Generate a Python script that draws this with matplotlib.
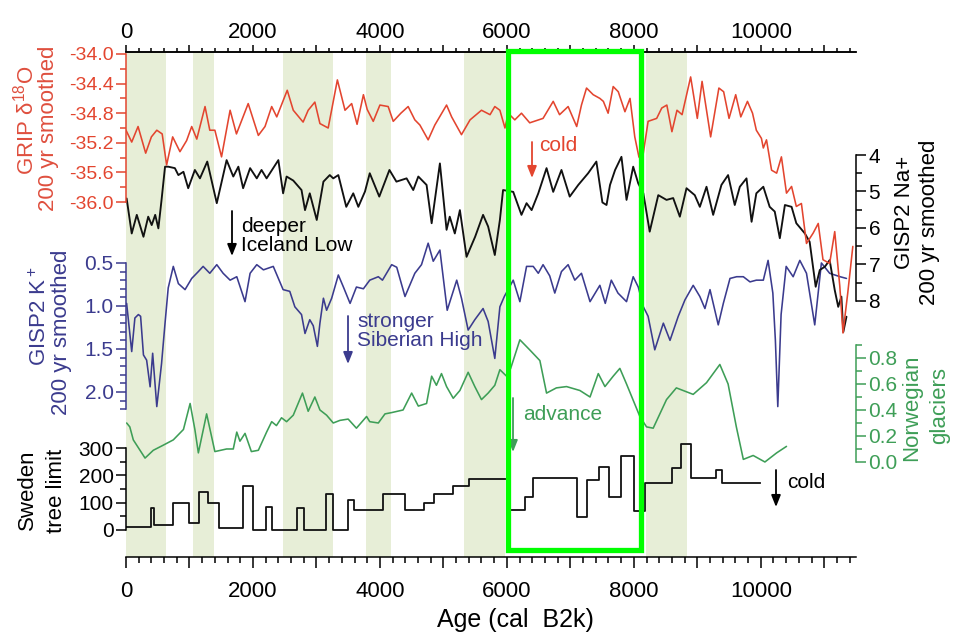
import matplotlib
matplotlib.use('Agg')
import matplotlib.pyplot as plt
import matplotlib.transforms as mtransforms
from matplotlib.patches import Rectangle
from matplotlib.ticker import FixedLocator, MultipleLocator, FuncFormatter, FormatStrFormatter

plt.rcParams['font.family'] = ['Liberation Sans', 'DejaVu Sans']
plt.rcParams['mathtext.fontset'] = 'custom'
plt.rcParams['mathtext.rm'] = 'Liberation Sans'
plt.rcParams['mathtext.it'] = 'Liberation Sans:italic'
plt.rcParams['axes.unicode_minus'] = False

# GRIP d18O, 200 yr smoothed
grip_age = [0, 90, 190, 310, 400, 485, 570, 640, 735, 850, 955, 1035, 1115, 1245, 1320, 1400, 1505, 1640,
            1740, 1925, 2085, 2190, 2295, 2375, 2540, 2635, 2790, 2870, 2975, 3055, 3185, 3330, 3450, 3555,
            3640, 3740, 3800, 3895, 4000, 4130, 4210, 4330, 4445, 4550, 4630, 4760, 4865, 5050, 5130, 5285,
            5420, 5600, 5735, 5810, 5890, 5970, 6020, 6125, 6230, 6360, 6570, 6730, 6830, 6965, 7100, 7175,
            7255, 7360, 7465, 7520, 7595, 7675, 7755, 7860, 7940, 8015, 8080, 8130, 8225, 8360, 8440, 8520,
            8600, 8680, 8760, 8895, 9000, 9075, 9210, 9340, 9415, 9500, 9605, 9685, 9790, 9870, 9930, 10010,
            10040, 10090, 10170, 10250, 10325, 10405, 10485, 10560, 10640, 10720, 10825, 10905, 10980, 11085,
            11165, 11245, 11295, 11370, 11450]
grip_val = [-35.03, -35.19, -34.98, -35.34, -35.12, -35.03, -35.08, -35.50, -35.12, -35.32, -35.17, -34.98,
            -35.15, -34.71, -35.03, -35.03, -35.39, -34.76, -35.08, -34.67, -35.10, -34.98, -34.71, -34.85,
            -34.49, -34.76, -34.92, -34.76, -34.65, -34.94, -35.00, -34.35, -34.76, -34.67, -34.95, -34.55,
            -34.75, -34.91, -34.69, -34.71, -34.91, -34.80, -34.71, -34.89, -34.96, -35.16, -34.96, -34.69,
            -34.85, -35.09, -34.89, -34.76, -34.82, -34.71, -34.76, -35.00, -34.80, -34.89, -34.80, -34.93,
            -34.87, -34.64, -34.82, -34.71, -34.98, -34.69, -34.46, -34.55, -34.60, -34.64, -34.80, -34.44,
            -34.51, -34.78, -34.60, -35.12, -35.39, -35.45, -34.91, -34.87, -34.73, -34.69, -35.05, -34.76,
            -34.82, -34.31, -34.87, -34.37, -35.12, -34.46, -34.51, -34.87, -34.55, -34.85, -34.64, -34.80,
            -35.03, -35.14, -35.27, -35.16, -35.57, -35.61, -35.39, -35.88, -35.79, -36.06, -36.02, -36.56,
            -36.42, -36.29, -36.78, -36.83, -36.40, -37.14, -37.77, -37.23, -36.60]

# GISP2 Na+, 200 yr smoothed
na_age = [10, 90, 170, 275, 350, 405, 460, 510, 560, 615, 665, 770, 825, 905, 980, 1085, 1165, 1280, 1430,
          1585, 1690, 1770, 1845, 1955, 2060, 2135, 2215, 2400, 2475, 2530, 2635, 2765, 2820, 2895, 3005,
          3110, 3210, 3265, 3345, 3470, 3580, 3660, 3765, 3840, 3990, 4150, 4260, 4420, 4525, 4605, 4735,
          4815, 4945, 5050, 5100, 5180, 5260, 5365, 5500, 5625, 5705, 5810, 5890, 5940, 6100, 6230, 6310,
          6390, 6495, 6625, 6730, 6860, 6990, 7125, 7280, 7410, 7505, 7570, 7625, 7705, 7805, 7885, 7990,
          8070, 8150, 8250, 8385, 8515, 8620, 8725, 8830, 8960, 9040, 9145, 9250, 9380, 9485, 9590, 9670,
          9775, 9855, 9930, 10040, 10140, 10220, 10300, 10380, 10485, 10560, 10695, 10770, 10865, 10930,
          11010, 11085, 11165, 11220, 11270, 11300, 11350]
na_val = [5.19, 6.15, 5.64, 6.24, 5.69, 5.92, 5.64, 6.01, 5.23, 4.32, 4.32, 4.36, 4.55, 4.46, 4.91, 4.41,
          4.64, 4.18, 5.32, 4.14, 4.59, 4.32, 4.91, 4.36, 4.64, 4.41, 4.64, 4.14, 5.05, 4.59, 4.70, 4.96,
          5.51, 5.05, 5.78, 4.73, 4.55, 4.64, 4.55, 5.42, 5.05, 5.42, 5.00, 4.50, 5.14, 4.41, 4.73, 4.64,
          4.96, 4.59, 4.82, 5.87, 4.23, 6.05, 5.69, 6.15, 5.51, 6.79, 6.24, 5.64, 5.96, 6.74, 5.78, 4.96,
          5.01, 5.64, 5.32, 5.51, 5.05, 4.36, 5.01, 4.41, 5.14, 4.82, 4.50, 4.18, 5.30, 5.37, 4.82, 4.41,
          4.05, 5.23, 4.32, 4.78, 5.05, 6.10, 5.10, 5.23, 5.18, 5.69, 4.91, 5.10, 5.42, 4.87, 5.64, 4.82,
          4.55, 5.37, 4.87, 4.64, 5.83, 5.05, 4.87, 5.42, 5.55, 6.28, 5.37, 5.42, 5.87, 6.15, 6.38, 7.61,
          7.15, 7.06, 6.88, 7.70, 8.16, 7.88, 8.85, 8.43]

# GISP2 K+, 200 yr smoothed
k_age = [10, 90, 140, 195, 230, 275, 325, 380, 420, 485, 560, 615, 665, 745, 825, 930, 1035, 1140, 1215,
         1320, 1430, 1530, 1640, 1745, 1875, 1955, 2060, 2165, 2320, 2475, 2580, 2660, 2765, 2820, 2895,
         2950, 3015, 3055, 3110, 3160, 3240, 3345, 3425, 3530, 3630, 3740, 3840, 3975, 4040, 4185, 4265,
         4395, 4550, 4655, 4760, 4840, 4945, 5060, 5210, 5285, 5390, 5495, 5625, 5705, 5810, 5890, 5960,
         6100, 6205, 6310, 6415, 6495, 6570, 6675, 6755, 6860, 6965, 7070, 7175, 7310, 7465, 7550, 7645,
         7750, 7885, 7990, 8070, 8150, 8225, 8330, 8465, 8570, 8700, 8805, 8935, 9040, 9120, 9200, 9330,
         9410, 9515, 9620, 9725, 9830, 9930, 10040, 10115, 10190, 10230, 10268, 10320, 10400, 10510, 10615,
         10720, 10850, 10955, 11085, 11250, 11350]
k_val = [0.97, 1.53, 1.14, 1.10, 1.12, 1.57, 1.63, 1.94, 1.55, 2.17, 1.67, 1.20, 0.79, 0.54, 0.74, 0.81,
         0.68, 0.60, 0.54, 0.62, 0.52, 0.62, 0.70, 0.66, 0.95, 0.62, 0.52, 0.58, 0.54, 0.81, 0.83, 1.01,
         1.10, 1.32, 1.16, 1.23, 1.47, 1.20, 0.91, 1.05, 0.91, 0.64, 0.78, 0.97, 0.78, 0.80, 0.70, 0.66,
         0.70, 0.52, 0.55, 0.89, 0.62, 0.52, 0.27, 0.48, 0.35, 1.05, 0.70, 0.91, 1.28, 1.16, 1.03, 1.18,
         1.61, 1.01, 0.89, 0.70, 0.95, 0.54, 0.54, 0.62, 0.52, 0.65, 0.85, 0.60, 0.52, 0.70, 0.62, 0.95,
         0.76, 0.97, 0.70, 0.85, 0.95, 0.66, 0.78, 1.01, 1.12, 1.51, 1.20, 1.40, 1.12, 0.93, 0.76, 0.89,
         1.03, 0.81, 1.22, 0.97, 0.68, 0.66, 0.66, 0.72, 0.70, 0.70, 0.47, 0.85, 1.40, 2.17, 1.10, 0.54,
         0.66, 0.47, 0.62, 1.22, 0.50, 0.62, 0.66, 0.68]

# Norwegian glaciers
gl_age = [10, 60, 115, 300, 430, 590, 745, 905, 1010, 1085, 1140, 1270, 1400, 1585, 1690, 1745, 1795, 1875,
          1975, 2085, 2215, 2295, 2370, 2450, 2530, 2635, 2780, 2870, 2975, 3055, 3160, 3265, 3370, 3500,
          3630, 3790, 3840, 3975, 4080, 4185, 4365, 4500, 4605, 4735, 4815, 4890, 4970, 5050, 5155, 5260,
          5390, 5495, 5600, 5705, 5810, 5890, 5995, 6060, 6205, 6365, 6520, 6625, 6780, 6940, 7150, 7310,
          7440, 7545, 7675, 7780, 7885, 8095, 8200, 8305, 8515, 8670, 8935, 9145, 9355, 9485, 9615, 9725,
          9880, 10065, 10250, 10405]
gl_val = [0.30, 0.27, 0.17, 0.03, 0.09, 0.13, 0.17, 0.25, 0.45, 0.25, 0.07, 0.37, 0.08, 0.10, 0.10, 0.23,
          0.16, 0.22, 0.08, 0.09, 0.23, 0.31, 0.28, 0.34, 0.31, 0.36, 0.53, 0.39, 0.50, 0.40, 0.36, 0.30,
          0.32, 0.33, 0.26, 0.35, 0.31, 0.30, 0.37, 0.38, 0.40, 0.53, 0.43, 0.45, 0.66, 0.59, 0.68, 0.58,
          0.49, 0.55, 0.69, 0.58, 0.48, 0.53, 0.59, 0.71, 0.66, 0.72, 0.94, 0.86, 0.78, 0.53, 0.57, 0.58,
          0.55, 0.50, 0.68, 0.58, 0.66, 0.72, 0.60, 0.35, 0.27, 0.26, 0.48, 0.57, 0.52, 0.61, 0.75, 0.60,
          0.27, 0.02, 0.05, 0.00, 0.07, 0.12]

# Sweden tree limit (step edges, last entry is the end of the record)
tree_edges = [0, 390, 445, 745, 1000, 1155, 1295, 1465, 1850, 2005, 2200, 2305, 2700, 2800, 3150, 3255, 3500,
              3595, 4055, 4395, 4700, 4855, 5155, 5405, 6020, 6285, 6415, 7100, 7255, 7455, 7605, 7805, 8000,
              8180, 8595, 8750, 8895, 9295, 9395, 9990]
tree_val = [10, 79, 18, 98, 27, 140, 98, 8, 161, 0, 85, 0, 79, 0, 130, 0, 110, 73, 130, 73, 98, 130, 161,
            187, 73, 122, 189, 49, 183, 232, 122, 271, 69, 171, 226, 313, 191, 220, 171]

# shaded intervals and highlighted period
bands = [(0, 630), (1050, 1386), (2467, 3265), (3775, 4175), (5318, 5969), (8185, 8840)]
box = (6025, 8118)

red = '#e3452f'
red_txt = '#df4f3e'
blue = '#3b3b8e'
green = '#3e9e57'
band_col = '#e7eed7'

W, H = 956, 637


def fx(x):
    return x / W


def fy(y):
    return 1 - y / H


fig = plt.figure(figsize=(9.56, 6.37), dpi=100)
rect = [fx(126), fy(557), (856 - 126) / W, (557 - 52) / H]

ax = fig.add_axes(rect)
ax.set_xlim(0, 11500)
ax.set_ylim(0, 1)
ax.set_yticks([])
ax.spines['left'].set_visible(False)
ax.spines['right'].set_visible(False)
for s in ('top', 'bottom'):
    ax.spines[s].set_linewidth(1.1)

even_label = FuncFormatter(lambda v, p: '%d' % v if v % 2000 == 0 else '')
ax.xaxis.set_major_locator(MultipleLocator(1000))
ax.xaxis.set_minor_locator(MultipleLocator(200))
ax.xaxis.set_major_formatter(even_label)
ax.tick_params(axis='x', which='both', direction='out', labelsize=16, width=1.1)
ax.tick_params(axis='x', which='major', length=8, pad=9)
ax.tick_params(axis='x', which='minor', length=4.5)

top = ax.secondary_xaxis('top')
top.xaxis.set_major_locator(MultipleLocator(1000))
top.xaxis.set_minor_locator(MultipleLocator(200))
top.xaxis.set_major_formatter(even_label)
top.tick_params(axis='x', which='both', direction='out', labelsize=16, width=1.1)
top.tick_params(axis='x', which='major', length=5, pad=1.5)
top.tick_params(axis='x', which='minor', length=3)
top.spines['top'].set_linewidth(1.1)

for a0, a1 in bands:
    ax.axvspan(a0, a1, color=band_col, lw=0, zorder=0)


def overlay(ylim, side, color, bounds, major, minor, fmt, size):
    a = fig.add_axes(rect)
    a.patch.set_visible(False)
    a.set_xlim(0, 11500)
    a.set_ylim(*ylim)
    a.set_xticks([])
    for s in a.spines.values():
        s.set_visible(False)
    sp = a.spines[side]
    sp.set_visible(True)
    sp.set_bounds(*bounds)
    sp.set_color(color)
    sp.set_linewidth(1.1)
    a.yaxis.set_ticks_position(side)
    a.yaxis.set_major_locator(FixedLocator(major))
    a.yaxis.set_minor_locator(FixedLocator(minor))
    a.yaxis.set_major_formatter(FormatStrFormatter(fmt))
    a.tick_params(axis='y', which='both', direction='out', colors=color, labelsize=size, width=1.1)
    a.tick_params(axis='y', which='major', length=7, pad=2)
    a.tick_params(axis='y', which='minor', length=4.5)
    return a


line = dict(solid_joinstyle='round', solid_capstyle='round')

ax_t = overlay((-98.8, 1749), 'left', 'black', (0, 300), [0, 100, 200, 300], [50, 150, 250], '%d', 15)
ax_t.step(tree_edges, tree_val + [tree_val[-1]], where='post', color='#111111', lw=1.3)

ax_g = overlay((-0.731, 3.154), 'right', green, (0, 0.9), [0, 0.2, 0.4, 0.6, 0.8],
               [0.1, 0.3, 0.5, 0.7, 0.9], '%.1f', 15)
ax_g.plot(gl_age, gl_val, color=green, lw=1.15, **line)

ax_k = overlay((3.919, -1.953), 'left', blue, (0.5, 2.2), [0.5, 1.0, 1.5, 2.0],
               [0.6, 0.7, 0.8, 0.9, 1.1, 1.2, 1.3, 1.4, 1.6, 1.7, 1.8, 1.9, 2.1, 2.2], '%.1f', 15)
ax_k.plot(k_age, k_val, color=blue, lw=1.15, **line)

ax_na = overlay((15.014, 1.178), 'right', 'black', (4, 8), [4, 5, 6, 7, 8], [4.5, 5.5, 6.5, 7.5], '%d', 15)
ax_na.plot(na_age, na_val, color='#111111', lw=1.35, **line)

ax_r = overlay((-40.797, -33.973), 'left', red, (-36.0, -34.0), [-36.0, -35.6, -35.2, -34.8, -34.4, -34.0],
               [-35.8, -35.4, -35.0, -34.6, -34.2], '%.1f', 14)
ax_r.plot(grip_age, grip_val, color=red, lw=1.15, **line)

# highlighted 8.2 ka box
trans = mtransforms.blended_transform_factory(ax_r.transData, ax_r.transAxes)
ax_r.add_patch(Rectangle((box[0], 0.0129), box[1] - box[0], 0.990, transform=trans, fill=False,
                         edgecolor='#00ff00', lw=3.8, clip_on=False, zorder=10))

# axis titles
lab = dict(rotation=90, ha='center', va='center', fontsize=16)
fig.text(fx(26), fy(120), 'GRIP δ$^{18}$O', color=red_txt, **lab)
fig.text(fx(49), fy(128), '200 yr smoothed', color=red_txt, **lab)
fig.text(fx(40), fy(316), 'GISP2 K$^+$', color=blue, **lab)
fig.text(fx(62), fy(332), '200 yr smoothed', color=blue, **lab)
fig.text(fx(27), fy(490), 'Sweden', color='black', **lab)
fig.text(fx(57), fy(491), 'tree limit', color='black', **lab)
fig.text(fx(905), fy(212), 'GISP2 Na+', color='black', **lab)
fig.text(fx(930), fy(222), '200 yr smoothed', color='black', **lab)
fig.text(fx(912), fy(408), 'Norwegian', color=green, **lab)
fig.text(fx(940), fy(405), 'glaciers', color=green, **lab)
fig.text(fx(515), fy(620), 'Age (cal  B2k)', ha='center', va='center', fontsize=18)


def arrow(x, y0, y1, color):
    ax.annotate('', xy=(fx(x), fy(y1)), xytext=(fx(x), fy(y0)), xycoords='figure fraction',
                textcoords='figure fraction',
                arrowprops=dict(arrowstyle='-|>,head_length=0.7,head_width=0.28', color=color, lw=1.3,
                                shrinkA=0, shrinkB=0))


arrow(532, 142, 178, red)
fig.text(fx(539), fy(145), 'cold', color=red, fontsize=15, va='center')
arrow(232, 211, 256, 'black')
fig.text(fx(241), fy(236), 'deeper\nIceland Low', color='black', fontsize=15, va='center',
         linespacing=1.0)
arrow(348, 316, 364, blue)
fig.text(fx(357), fy(331), 'stronger\nSiberian High', color=blue, fontsize=15, va='center',
         linespacing=1.0)
arrow(513, 398, 452, green)
fig.text(fx(523), fy(415), 'advance', color=green, fontsize=15, va='center')
arrow(776, 470, 507, 'black')
fig.text(fx(787), fy(483), 'cold', color='black', fontsize=15, va='center')

fig.savefig('out.png', dpi=100)
